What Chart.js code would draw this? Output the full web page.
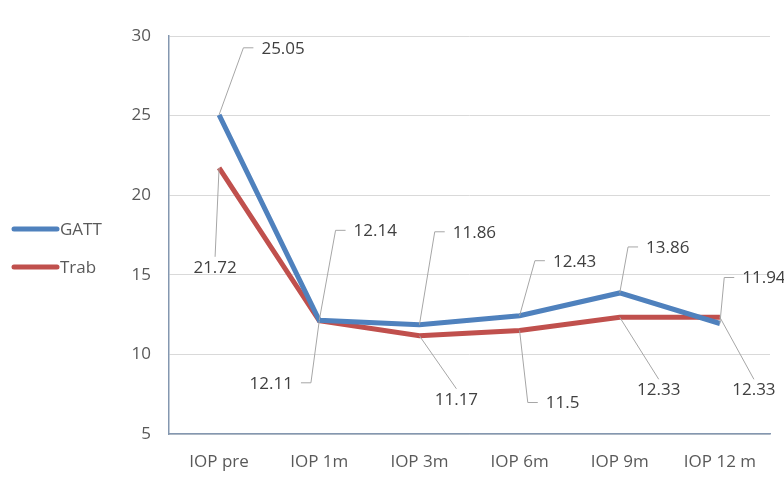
<!DOCTYPE html>
<html lang="en">
<head>
    <meta charset="UTF-8">
    <title>IOP GATT vs Trab</title>
    <script src="https://cdn.jsdelivr.net/npm/chart.js@4.4.1/dist/chart.umd.min.js"></script>
    <style>
        body {
            margin: 0;
            padding: 0;
            background: #ffffff;
            font-family: 'Open Sans', sans-serif;
        }

        #chart-container {
            position: relative;
            width: 784px;
            height: 481px;
        }
    </style>
</head>
<body>
<div id="chart-container">
    <canvas id="iopChart"></canvas>
</div>

<script>
    const categories = ['IOP pre', 'IOP 1m', 'IOP 3m', 'IOP 6m', 'IOP 9m', 'IOP 12 m'];
    const gattValues = [25.05, 12.14, 11.86, 12.43, 13.86, 11.94];
    const trabValues = [21.72, 12.11, 11.17, 11.5, 12.33, 12.33];
    const yTicks = [5, 10, 15, 20, 25, 30];

    // label placement (pixel offset of text centre from the point, leader style)
    const gattLabelPos = [[64, -67, 'side'], [56, -90, 'side'], [55, -93, 'side'], [55, -55, 'side'], [48, -46, 'side'], [44, -46, 'side']];
    const trabLabelPos = [[-4, 99, 'end'], [-48, 62, 'side'], [37, 63, 'end'], [43, 72, 'side'], [39, 72, 'end'], [34, 72, 'end']];

    const FONT = "'Open Sans', sans-serif";

    const leaderLabels = {
        id: 'leaderLabels',
        afterDatasetsDraw(chart) {
            const ctx = chart.ctx;
            const layouts = [gattLabelPos, trabLabelPos];
            ctx.save();
            ctx.font = '17px ' + FONT;
            ctx.textAlign = 'center';
            ctx.textBaseline = 'middle';
            chart.data.datasets.forEach((ds, i) => {
                const meta = chart.getDatasetMeta(i);
                meta.data.forEach((pt, j) => {
                    const [dx, dy, mode] = layouts[i][j];
                    const text = String(ds.data[j]);
                    const w = ctx.measureText(text).width;
                    const h = 16;
                    const cx = pt.x + dx;
                    const cy = pt.y + dy;

                    ctx.strokeStyle = '#a6a6a6';
                    ctx.lineWidth = 1;
                    ctx.beginPath();
                    ctx.moveTo(pt.x, pt.y);
                    if (mode === 'side') {
                        const dir = dx > 0 ? 1 : -1;
                        const tickEnd = cx - dir * (w / 2 + 8);
                        const corner = tickEnd - dir * 10;
                        ctx.lineTo(corner, cy);
                        ctx.lineTo(tickEnd, cy);
                    } else {
                        const ey = dy > 0 ? cy - h / 2 - 2 : cy + h / 2 + 2;
                        ctx.lineTo(cx, ey);
                    }
                    ctx.stroke();

                    ctx.fillStyle = '#404040';
                    ctx.fillText(text, cx, cy + 1);
                });
            });
            ctx.restore();
        }
    };

    const sideLegend = {
        id: 'sideLegend',
        afterDraw(chart) {
            const ctx = chart.ctx;
            const rows = [229, 267];
            ctx.save();
            ctx.font = '17px ' + FONT;
            ctx.textBaseline = 'middle';
            chart.data.datasets.forEach((ds, i) => {
                ctx.strokeStyle = ds.borderColor;
                ctx.lineWidth = 5;
                ctx.lineCap = 'round';
                ctx.beginPath();
                ctx.moveTo(14, rows[i]);
                ctx.lineTo(57, rows[i]);
                ctx.stroke();
                ctx.fillStyle = '#595959';
                ctx.fillText(ds.label, 60, rows[i] + 1);
            });
            ctx.restore();
        }
    };

    const config = {
        type: 'line',
        data: {
            labels: categories,
            datasets: [
                {
                    label: 'GATT',
                    data: gattValues,
                    borderColor: '#4f81bd',
                    backgroundColor: '#4f81bd',
                    borderWidth: 5,
                    pointRadius: 0,
                    tension: 0,
                    fill: false
                },
                {
                    label: 'Trab',
                    data: trabValues,
                    borderColor: '#c0504d',
                    backgroundColor: '#c0504d',
                    borderWidth: 5,
                    pointRadius: 0,
                    tension: 0,
                    fill: false
                }
            ]
        },
        options: {
            responsive: true,
            maintainAspectRatio: false,
            animation: false,
            layout: {
                padding: { top: 36, right: 14, bottom: 0, left: 0 }
            },
            plugins: {
                legend: { display: false },
                tooltip: { enabled: false }
            },
            scales: {
                x: {
                    offset: true,
                    afterFit: (scale) => {
                        scale.height = 47;
                    },
                    grid: { display: false, drawTicks: false },
                    border: { display: true, color: '#8497b0', width: 1.5 },
                    ticks: {
                        padding: 18,
                        color: '#595959',
                        font: { family: FONT, size: 17 }
                    }
                },
                y: {
                    min: yTicks[0],
                    max: yTicks[yTicks.length - 1],
                    afterBuildTicks: (scale) => {
                        scale.ticks = yTicks.map(v => ({ value: v }));
                    },
                    afterFit: (scale) => {
                        scale.width = 169;
                    },
                    grid: { color: '#d9d9d9', lineWidth: 1, drawTicks: false },
                    border: { display: true, color: '#8497b0', width: 1.5 },
                    ticks: {
                        padding: 18,
                        color: '#595959',
                        font: { family: FONT, size: 17 }
                    }
                }
            }
        },
        plugins: [leaderLabels, sideLegend]
    };

    const ctx = document.getElementById('iopChart').getContext('2d');
    const chartInstance = new Chart(ctx, config);
</script>
</body>
</html>
